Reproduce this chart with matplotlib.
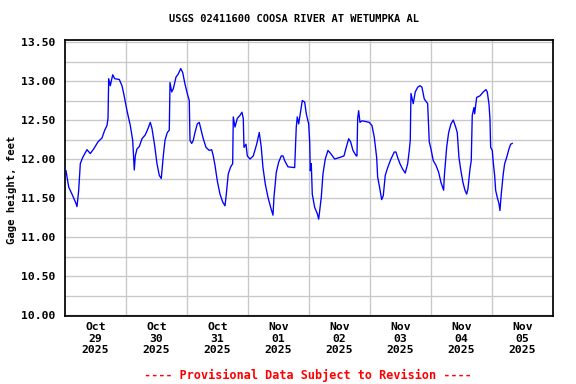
import numpy as np
import pandas as pd
import matplotlib
matplotlib.use("Agg")
import matplotlib.pyplot as plt
import matplotlib.dates as mdates
from matplotlib.ticker import MultipleLocator

title = "USGS 02411600 COOSA RIVER AT WETUMPKA AL"
ylabel = "Gage height, feet"
footer = "---- Provisional Data Subject to Revision ----"

start = pd.Timestamp("2025-10-29 00:00")
hours = [0.39, 1.46, 2.75, 4.33, 4.72, 5.39, 6.02, 6.96, 8.65, 9.95, 11.29, 12.98,
         14.56, 15.62, 16.52, 16.92, 17.19, 17.82, 18.77, 19.55, 21.36, 22.42, 23.09,
         24.39, 25.69, 26.63, 27.26, 27.66, 28.32, 29.23, 30.29, 31.59, 32.65, 33.56,
         34.23, 35.29, 36.19, 37.10, 37.88, 38.67, 39.34, 40.25, 41.03, 41.31, 41.98,
         42.61, 43.67, 44.57, 45.52, 46.30, 47.21, 48.11, 48.90, 49.18, 49.84, 50.47,
         51.14, 52.05, 52.83, 53.78, 54.41, 55.47, 56.77, 57.71, 58.34, 59.01, 59.92,
         60.98, 62.04, 62.94, 63.34, 64.24, 65.19, 65.97, 66.21, 66.88, 67.78, 68.85,
         69.63, 70.14, 70.42, 71.21, 71.72, 72.78, 74.08, 75.41, 76.44, 77.22, 77.89,
         78.80, 79.86, 80.92, 81.83, 82.22, 83.13, 84.07, 85.09, 85.76, 86.43, 87.73,
         90.36, 90.99, 91.39, 91.94, 92.73, 93.36, 94.30, 94.93, 95.87, 96.27, 96.50,
         96.90, 97.29, 98.23, 99.26, 99.81, 100.20, 100.83, 101.50, 102.40, 103.46,
         104.53, 106.10, 108.07, 109.76, 110.66, 111.61, 112.39, 113.30, 114.60,
         114.87, 115.15, 115.54, 116.05, 116.84, 118.41, 119.71, 120.77, 121.68,
         122.62, 123.01, 123.64, 124.59, 125.22, 126.00, 126.95, 128.25, 129.55,
         130.21, 130.88, 131.79, 132.85, 133.87, 134.82, 135.45, 135.84, 136.12,
         137.02, 137.81, 138.75, 139.66, 140.44, 141.35, 142.68, 143.31, 143.98,
         144.89, 145.95, 147.01, 147.92, 148.98, 149.22, 150.16, 150.95, 151.85,
         152.76, 153.70, 154.33, 155.00, 155.67, 156.57, 157.36, 158.03, 158.54,
         159.33, 159.84, 160.23, 160.90, 161.18, 161.96, 163.26, 164.56, 165.62,
         166.13, 166.80, 167.19, 167.47, 168.10, 168.49, 169.04, 169.43, 170.06,
         170.73, 171.13, 171.64, 172.43, 172.98, 173.77, 174.68, 175.35, 175.97]
gage_ft = [11.85, 11.64, 11.55, 11.43, 11.39, 11.60, 11.94, 12.02, 12.12, 12.07, 12.13, 12.22,
           12.27, 12.37, 12.43, 12.52, 13.03, 12.94, 13.08, 13.03, 13.02, 12.94, 12.84,
           12.62, 12.43, 12.24, 11.86, 12.04, 12.13, 12.16, 12.26, 12.31, 12.39, 12.47,
           12.39, 12.17, 11.94, 11.79, 11.75, 12.04, 12.24, 12.34, 12.37, 12.98, 12.86,
           12.90, 13.05, 13.09, 13.16, 13.11, 12.96, 12.84, 12.75, 12.24, 12.20, 12.24,
           12.34, 12.45, 12.47, 12.34, 12.26, 12.15, 12.11, 12.12, 12.04, 11.92, 11.72,
           11.55, 11.45, 11.40, 11.51, 11.81, 11.90, 11.94, 12.54, 12.41, 12.52, 12.56,
           12.60, 12.52, 12.15, 12.19, 12.04, 12.00, 12.04, 12.19, 12.34, 12.15, 11.89,
           11.68, 11.51, 11.38, 11.28, 11.51, 11.83, 11.96, 12.04, 12.04, 11.98, 11.90,
           11.89, 12.41, 12.54, 12.45, 12.62, 12.75, 12.73, 12.58, 12.45, 12.22, 11.85,
           11.94, 11.55, 11.38, 11.30, 11.23, 11.34, 11.51, 11.81, 12.00, 12.11,
           12.07, 12.00, 12.02, 12.04, 12.15, 12.26, 12.22, 12.11, 12.04,
           12.04, 12.52, 12.62, 12.47, 12.49, 12.48, 12.47, 12.43, 12.28,
           12.02, 11.77, 11.66, 11.48, 11.53, 11.79, 11.89, 12.00, 12.09,
           12.09, 12.02, 11.94, 11.87, 11.82, 11.94, 12.11, 12.24, 12.84,
           12.71, 12.86, 12.92, 12.94, 12.92, 12.77, 12.71, 12.22, 12.13,
           11.98, 11.92, 11.83, 11.70, 11.60, 11.77, 12.15, 12.34, 12.45,
           12.50, 12.41, 12.34, 12.02, 11.87, 11.70, 11.60, 11.55, 11.62,
           11.87, 11.98, 12.56, 12.66, 12.58, 12.79, 12.81, 12.86, 12.89,
           12.86, 12.71, 12.52, 12.15, 12.11, 11.96, 11.79, 11.60, 11.51,
           11.43, 11.34, 11.55, 11.81, 11.94, 12.02, 12.13, 12.19, 12.20]

day_labels = ["Oct\n29\n2025", "Oct\n30\n2025", "Oct\n31\n2025", "Nov\n01\n2025",
              "Nov\n02\n2025", "Nov\n03\n2025", "Nov\n04\n2025", "Nov\n05\n2025"]

times = start + pd.to_timedelta(hours, unit="h")

font = ["DejaVu Sans Mono"]
plt.rcParams["font.family"] = font
plt.rcParams["font.weight"] = "bold"

fig = plt.figure(figsize=(6, 4), dpi=96)
ax = fig.add_axes([65 / 576, 1 - 315.5 / 384, (553 - 65) / 576, (315.5 - 40) / 384])

ax.plot(times, gage_ft, color="#0000ff", lw=1.0, zorder=3)

ax.set_xlim(start, start + pd.Timedelta(days=8))
ax.set_ylim(9.994, 13.526)

ax.yaxis.set_major_locator(MultipleLocator(0.5))
ax.yaxis.set_minor_locator(MultipleLocator(0.25))
ax.yaxis.set_major_formatter(matplotlib.ticker.FormatStrFormatter("%.2f"))

mid = [mdates.date2num(start + pd.Timedelta(hours=12 + 24 * i)) for i in range(8)]
ax.set_xticks(mid)
ax.set_xticklabels(day_labels, fontsize=8.5, fontweight="bold", linespacing=1.2)
grid_x = [mdates.date2num(start + pd.Timedelta(days=i)) for i in range(1, 8)]
ax.set_xticks(grid_x, minor=True)

ax.tick_params(axis="both", which="both", length=0)
ax.tick_params(axis="y", labelsize=8.5, pad=7)
ax.tick_params(axis="x", pad=5)
for lbl in ax.get_yticklabels():
    lbl.set_fontweight("bold")

ax.grid(False)
ax.grid(True, which="minor", color="#c8c8c8", lw=1.0, zorder=1)
ax.yaxis.grid(True, which="major", color="#c8c8c8", lw=1.0, zorder=1)
ax.set_axisbelow(True)

for s in ax.spines.values():
    s.set_color("black")
    s.set_linewidth(1.3)

fig.text(12 / 576, 1 - 190 / 384, ylabel, rotation=90, ha="center", va="center",
         fontsize=7.9, fontweight="bold")
fig.text(294 / 576, 1 - 19 / 384, title, ha="center", va="center",
         fontsize=7.8, fontweight="bold")
fig.text(308 / 576, 1 - 375 / 384, footer, ha="center", va="center",
         fontsize=8.8, fontweight="bold", color="red")

fig.savefig("out.png", dpi=96)
